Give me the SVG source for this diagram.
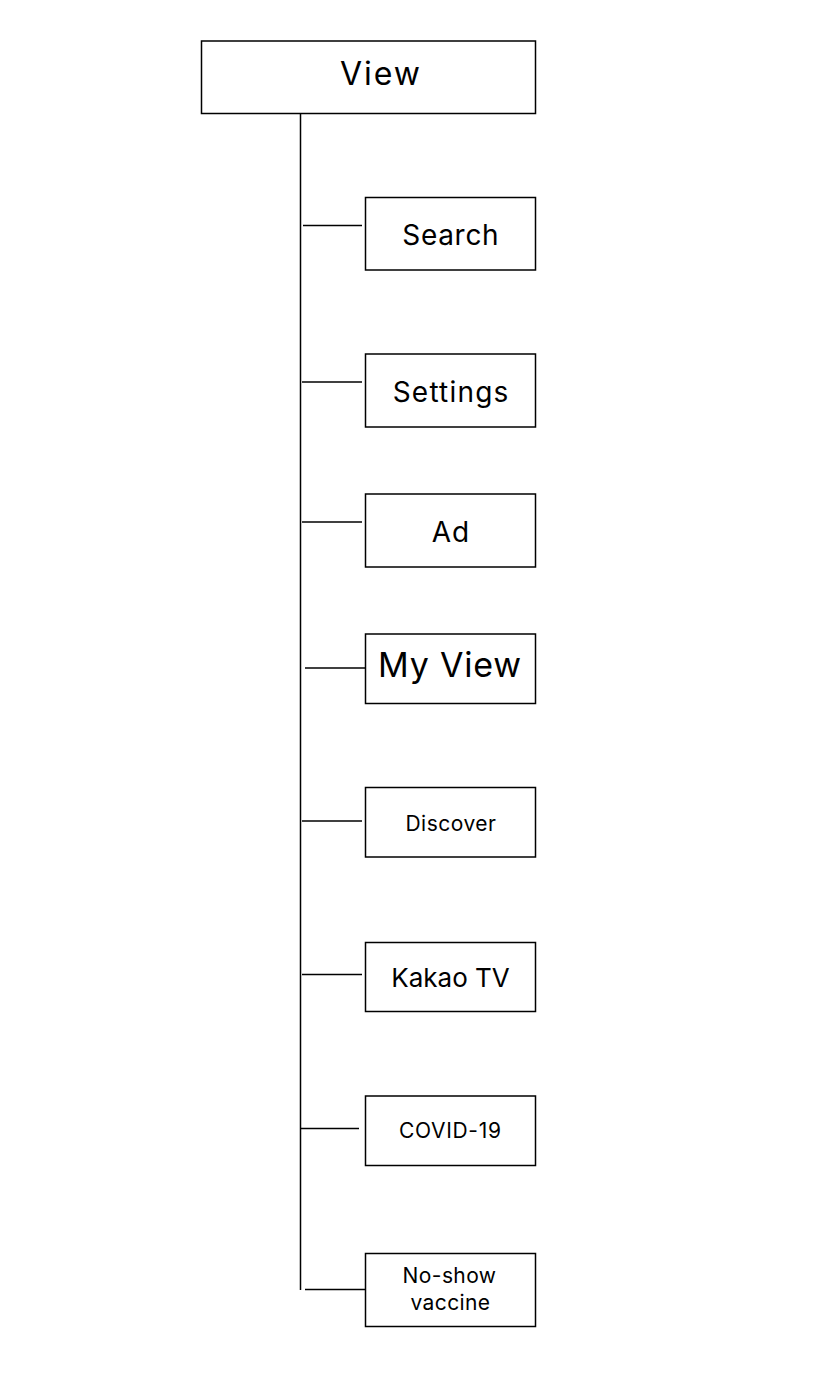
<svg xmlns="http://www.w3.org/2000/svg" width="816" height="1400" viewBox="0 0 816 1400">
<style>
.box{fill:#fff;stroke:#000;stroke-width:1.5}
.ln{stroke:#000;stroke-width:1.5;fill:none}
text{font-family:Inter,"Liberation Sans",sans-serif;fill:#000;text-anchor:middle}
</style>
<rect width="816" height="1400" fill="#fff"/>
<g id="connectors">
<line class="ln" x1="300.5" y1="113.5" x2="300.5" y2="1290"/>
<line class="ln" x1="303" y1="225.5" x2="362" y2="225.5"/>
<line class="ln" x1="302" y1="382" x2="362" y2="382"/>
<line class="ln" x1="302" y1="522" x2="362" y2="522"/>
<line class="ln" x1="305" y1="668" x2="365" y2="668"/>
<line class="ln" x1="302" y1="821" x2="362" y2="821"/>
<line class="ln" x1="302" y1="974.5" x2="362" y2="974.5"/>
<line class="ln" x1="300" y1="1128.5" x2="359" y2="1128.5"/>
<line class="ln" x1="305" y1="1289.5" x2="365" y2="1289.5"/>
</g>
<g id="view"><rect class="box" x="201.5" y="41" width="334" height="72.5"/><text x="381" y="85" font-size="32" letter-spacing="2">View</text></g>
<g id="search"><rect class="box" x="365.5" y="197.5" width="170" height="72.5"/><text x="450.8" y="245" font-size="28" letter-spacing="0.7">Search</text></g>
<g id="settings"><rect class="box" x="365.5" y="354" width="170" height="73"/><text x="451.1" y="401.5" font-size="28" letter-spacing="1.2">Settings</text></g>
<g id="ad"><rect class="box" x="365.5" y="494" width="170" height="73"/><text x="450.8" y="541.5" font-size="28" letter-spacing="0.7">Ad</text></g>
<g id="myview"><rect class="box" x="365.5" y="634" width="170" height="69.5"/><text x="450" y="676.5" font-size="34" letter-spacing="0.8">My View</text></g>
<g id="discover"><rect class="box" x="365.5" y="787.5" width="170" height="69.5"/><text x="451" y="830.5" font-size="21" letter-spacing="0.5">Discover</text></g>
<g id="kakaotv"><rect class="box" x="365.5" y="942.5" width="170" height="69"/><text x="450.5" y="986.5" font-size="26">Kakao TV</text></g>
<g id="covid"><rect class="box" x="365.5" y="1096" width="170" height="69.5"/><text x="450.3" y="1137.7" font-size="21" letter-spacing="0.7">COVID-19</text></g>
<g id="noshow"><rect class="box" x="365.5" y="1253.5" width="170" height="73"/><text x="449.5" y="1283.3" font-size="21" letter-spacing="0.4">No-show</text><text x="450.5" y="1310" font-size="21" letter-spacing="0.4">vaccine</text></g>
</svg>
